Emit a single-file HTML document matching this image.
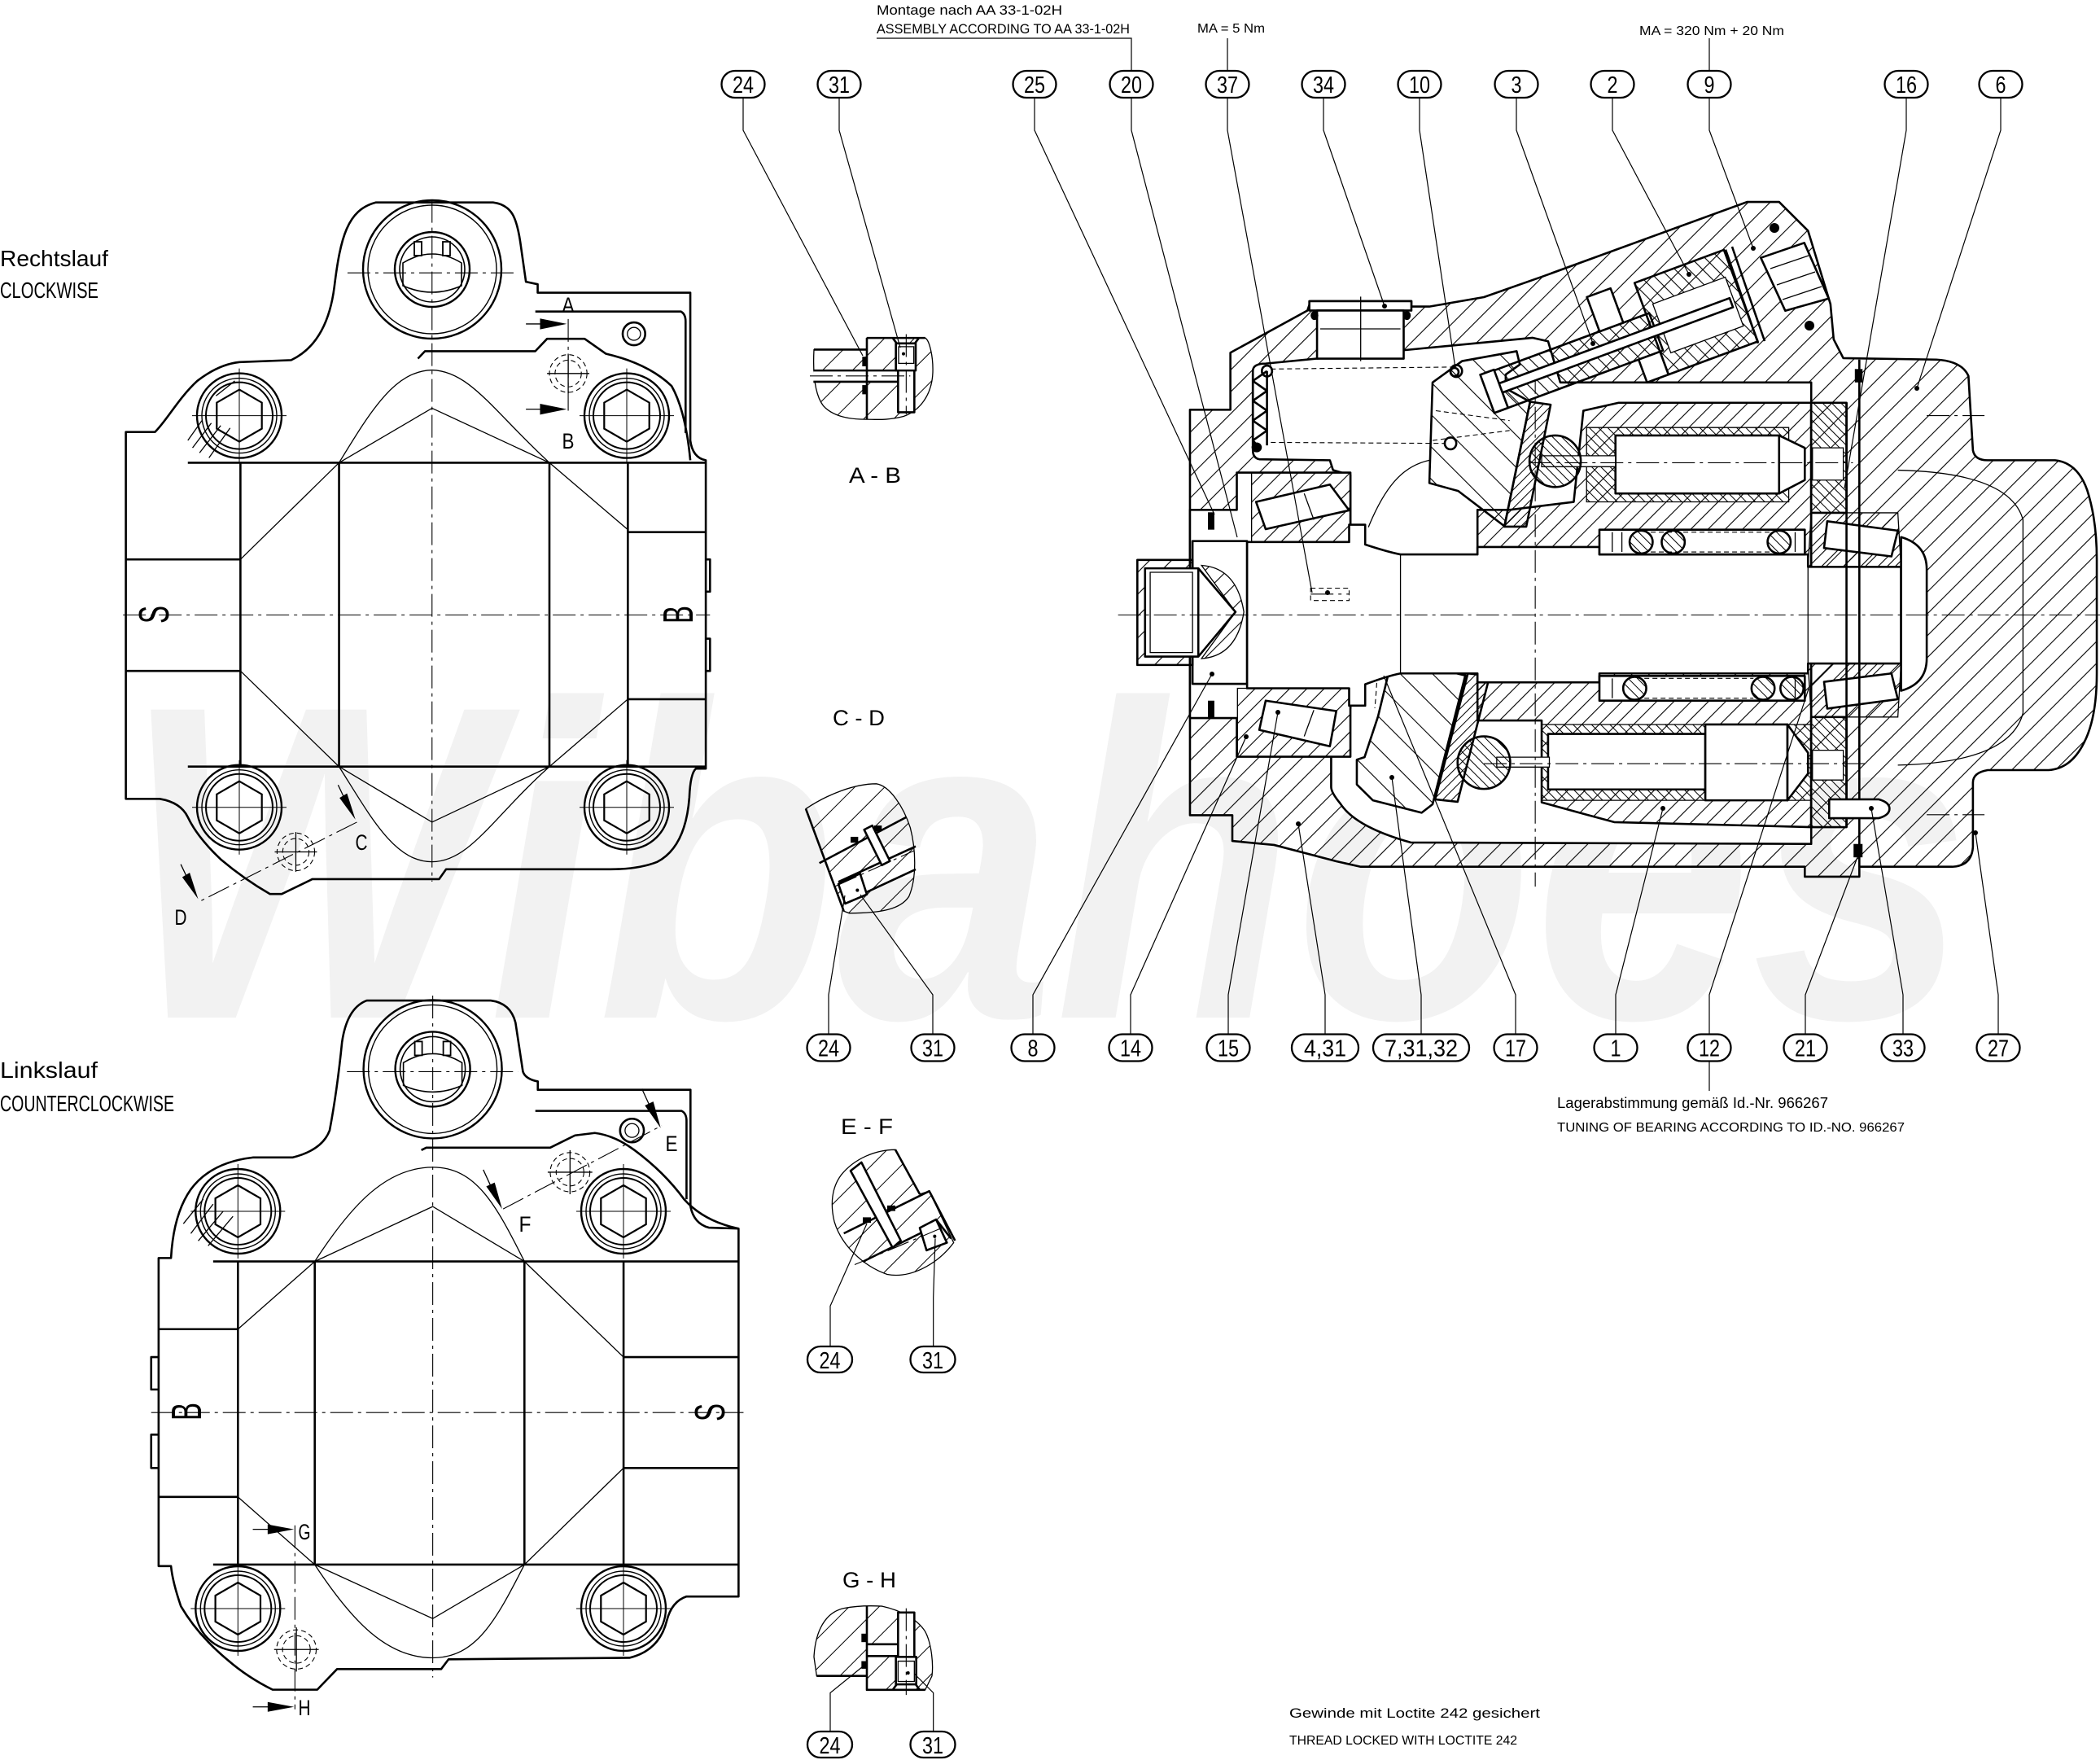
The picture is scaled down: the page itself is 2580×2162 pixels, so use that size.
<!DOCTYPE html>
<html><head><meta charset="utf-8"><style>
html,body{margin:0;padding:0;background:#fff}
svg{display:block}
.k{fill:none;stroke:#000;stroke-width:2.6;vector-effect:non-scaling-stroke;stroke-linejoin:round}
.t{fill:none;stroke:#000;stroke-width:1.3;vector-effect:non-scaling-stroke}
.c{fill:none;stroke:#000;stroke-width:1.1;stroke-dasharray:28 6 4 6;vector-effect:non-scaling-stroke}
.d{fill:none;stroke:#000;stroke-width:1.1;stroke-dasharray:6 4;vector-effect:non-scaling-stroke}
.f{fill:#000;stroke:none}
.ld{fill:none;stroke:#000;stroke-width:1.2}
.b rect{fill:#fff;stroke:#000;stroke-width:2.3}
.b text{font-family:"Liberation Sans",sans-serif;font-size:29px;text-anchor:middle;fill:#000}
.tx{font-family:"Liberation Sans","DejaVu Sans",sans-serif;fill:#000}
</style></head><body>
<svg xmlns="http://www.w3.org/2000/svg" width="2580" height="2162" viewBox="0 0 2580 2162">
<defs>
<pattern id="hA2" patternUnits="userSpaceOnUse" width="19" height="19" patternTransform="scale(1.26829,1.64211) rotate(45)"><line x1="9.5" y1="-1" x2="9.5" y2="20" stroke="#000" stroke-width="1.1"/></pattern>
<pattern id="hE2" patternUnits="userSpaceOnUse" width="15" height="15" patternTransform="scale(1.26829,1.64211) rotate(45)"><line x1="7.5" y1="-1" x2="7.5" y2="16" stroke="#000" stroke-width="1.1"/></pattern>
<pattern id="hF2" patternUnits="userSpaceOnUse" width="8" height="8" patternTransform="scale(1.26829,1.64211) rotate(45)"><line x1="4" y1="-1" x2="4" y2="9" stroke="#000" stroke-width="1"/></pattern>
<pattern id="hS2" patternUnits="userSpaceOnUse" width="28" height="28" patternTransform="scale(1.26829,1.64211) rotate(-45)"><line x1="14" y1="-1" x2="14" y2="29" stroke="#000" stroke-width="1.1"/></pattern>
<pattern id="hC2" patternUnits="userSpaceOnUse" width="8" height="8" patternTransform="scale(1.26829,1.64211) rotate(-45)"><line x1="4" y1="-1" x2="4" y2="9" stroke="#000" stroke-width="1"/></pattern>
<pattern id="hC" patternUnits="userSpaceOnUse" width="12" height="12" patternTransform="rotate(-24.7)"><line x1="6" y1="-1" x2="6" y2="13" stroke="#000" stroke-width="1.1"/></pattern>
<pattern id="hD6" patternUnits="userSpaceOnUse" width="26" height="26" patternTransform="scale(3,1.95) rotate(45)"><line x1="13" y1="-1" x2="13" y2="27" stroke="#000" stroke-width="1"/></pattern>
<pattern id="hD7" patternUnits="userSpaceOnUse" width="26" height="26" patternTransform="scale(3,1.926) rotate(45)"><line x1="13" y1="-1" x2="13" y2="27" stroke="#000" stroke-width="1"/></pattern>
<g id="bolt">
<circle r="52" fill="none" stroke="#000" stroke-width="2.4"/>
<circle r="46" fill="none" stroke="#000" stroke-width="1.4"/>
<circle r="41" fill="none" stroke="#000" stroke-width="2"/>
<polygon points="0,-32 27.7,-16 27.7,16 0,32 -27.7,16 -27.7,-16" fill="none" stroke="#000" stroke-width="2.2"/>
<line x1="-58" y1="0" x2="58" y2="0" stroke="#000" stroke-width="1"/>
<line x1="0" y1="-58" x2="0" y2="58" stroke="#000" stroke-width="1"/>
</g>
<g id="port">
<circle r="85" fill="none" stroke="#000" stroke-width="2.4"/>
<circle r="79" fill="none" stroke="#000" stroke-width="1.4"/>
<circle r="46" fill="none" stroke="#000" stroke-width="2.4"/>
<circle r="40" fill="none" stroke="#000" stroke-width="1.6"/>
<path d="M-36,-8 Q0,-30 36,-8 L36,20 Q0,36 -36,20 Z" fill="none" stroke="#000" stroke-width="1.6"/>
<rect x="-22" y="-34" width="9" height="17" fill="none" stroke="#000" stroke-width="1.8"/>
<rect x="13" y="-34" width="9" height="17" fill="none" stroke="#000" stroke-width="1.8"/>
</g>
</defs>
<rect width="2580" height="2162" fill="#fff"/>

<!-- watermark -->
<text x="150" y="1250" font-family="Liberation Sans" font-weight="bold" font-style="italic" font-size="550" fill="#f2f2f2" textLength="2270" lengthAdjust="spacingAndGlyphs">Wibahoes</text>

<!-- ===================== FRONT VIEW 1 (Rechtslauf) ===================== -->
<text class="tx" x="0" y="327" font-size="28" textLength="133" lengthAdjust="spacingAndGlyphs">Rechtslauf</text>
<text class="tx" x="0" y="366" font-size="28" textLength="121" lengthAdjust="spacingAndGlyphs">CLOCKWISE</text>
<g transform="translate(0,200) scale(0.57692,0.60897)">
<path class="k" d="M268,543 L330,543 C355,520 380,475 420,440 C450,418 480,405 510,402 L620,398 C660,380 700,340 712,250 C725,150 740,95 800,80 L1050,80 C1090,85 1100,110 1108,160 L1120,240 L1145,245 L1145,262 L1470,262 L1470,560 Q1475,595 1503,600 L1503,1222 L1482,1222 Q1470,1232 1468,1280 Q1460,1380 1400,1410 Q1360,1425 1300,1425 L950,1425 L935,1445 L665,1445 L600,1475 L575,1475 Q520,1445 470,1405 Q420,1360 400,1320 Q385,1290 340,1283 L268,1283 Z"/>
<path class="k" d="M400,605 L1503,605 M400,1218 L1503,1218 M268,800 L512,800 M268,1025 L512,1025 M512,605 V1218 M722,605 V1218 M1170,605 V1218 M1337,605 V1218 M1337,745 H1503 M1337,1082 H1503"/>
<path class="t" d="M512,800 L722,605 M512,1025 L722,1218 M1170,605 L1337,740 M1170,1218 L1337,1082 M722,605 L920,495 L1170,605 M722,605 C790,500 840,420 920,418 C1000,420 1050,500 1170,605 M722,1218 L920,1330 L1170,1218 M722,1218 C790,1320 840,1410 920,1410 C1000,1410 1050,1320 1170,1218"/>
<path class="k" d="M1140,300 L1450,300 Q1460,305 1460,320 L1460,545 M890,395 L905,380 L1140,380 L1165,355 L1245,355 L1290,385 Q1380,405 1430,450 Q1460,500 1470,600"/>
<path class="k" d="M1503,800 L1512,800 L1512,865 L1503,865 M1503,960 L1512,960 L1512,1025 L1503,1025"/>
<path class="c" d="M920,75 V1450 M262,912 H1512 M740,222 H1100"/>
<path class="c" d="M1210,315 V500 M760,1330 L425,1490"/>
<path class="t" d="M1120,325 H1160 M1120,497 H1160 M720,1255 L735,1285 M385,1415 L400,1445"/>
<polygon class="f" points="1150,314 1207,325 1150,336"/>
<polygon class="f" points="1150,486 1207,497 1150,508"/>
<polygon class="f" points="757,1325 723,1281 739,1272"/>
<polygon class="f" points="422,1485 388,1441 404,1432"/>
<ellipse class="d" cx="1210" cy="425" rx="40" ry="38"/>
<ellipse class="d" cx="1210" cy="425" rx="28" ry="27"/>
<ellipse class="d" cx="630" cy="1390" rx="40" ry="38"/>
<ellipse class="d" cx="630" cy="1390" rx="28" ry="27"/>
<path class="t" d="M1165,425 H1255 M1210,385 V465 M585,1390 H675 M630,1350 V1430"/>
<ellipse class="k" cx="1350" cy="345" rx="24" ry="23"/>
<ellipse class="t" cx="1350" cy="345" rx="14" ry="13"/>
<path class="t" d="M400,560 L430,520 M410,575 L450,525 M425,585 L470,530 M445,595 L490,535 M460,470 L500,440"/>
</g>
<use href="#bolt" x="294" y="510.6"/><use href="#bolt" x="770" y="510.6"/>
<use href="#bolt" x="294" y="991.7"/><use href="#bolt" x="770" y="991.7"/>
<use href="#port" x="531" y="331"/>
<text class="tx" font-size="27" x="698" y="384" text-anchor="middle" textLength="15" lengthAdjust="spacingAndGlyphs">A</text>
<text class="tx" font-size="27" x="698" y="551" text-anchor="middle" textLength="15" lengthAdjust="spacingAndGlyphs">B</text>
<text class="tx" font-size="27" x="444" y="1044" text-anchor="middle" textLength="15" lengthAdjust="spacingAndGlyphs">C</text>
<text class="tx" font-size="27" x="222" y="1136" text-anchor="middle" textLength="15" lengthAdjust="spacingAndGlyphs">D</text>
<text class="tx" font-size="52" text-anchor="middle" transform="translate(189,755) rotate(-90)" y="18" textLength="22" lengthAdjust="spacingAndGlyphs">S</text>
<text class="tx" font-size="52" text-anchor="middle" transform="translate(833,755) rotate(-90)" y="18" textLength="22" lengthAdjust="spacingAndGlyphs">B</text>

<!-- ===================== FRONT VIEW 2 (Linkslauf) ===================== -->
<text class="tx" x="0" y="1324" font-size="28" textLength="120" lengthAdjust="spacingAndGlyphs">Linkslauf</text>
<text class="tx" x="0" y="1365" font-size="28" textLength="214" lengthAdjust="spacingAndGlyphs">COUNTERCLOCKWISE</text>
<g transform="translate(0,1220) scale(0.60897,0.60256)">
<path class="k" d="M320,540 L345,540 Q350,450 385,400 Q425,345 510,335 L590,335 Q650,320 665,280 Q680,200 690,100 Q700,30 740,15 L990,15 Q1030,20 1040,60 L1055,160 Q1060,175 1085,180 L1085,197 L1393,197 L1393,435 Q1400,470 1430,478 L1490,480 L1490,1230 L1385,1230 Q1355,1240 1345,1280 Q1330,1340 1270,1355 L905,1358 L890,1378 L680,1378 L640,1420 L550,1420 Q500,1395 460,1360 Q400,1310 365,1250 Q348,1200 345,1168 L320,1168 Z"/>
<path class="k" d="M430,547 H1490 M430,1165 H1490 M320,685 H480 M320,1027 H480 M480,547 V1165 M635,547 V1165 M1058,547 V1165 M1258,547 V1165 M1258,742 H1490 M1258,968 H1490"/>
<path class="t" d="M480,685 L635,547 M480,1027 L635,1165 M1058,547 L1258,742 M1058,1165 L1258,968 M635,547 L873,435 L1058,547 M635,547 C710,430 780,355 873,355 C960,355 1000,430 1058,547 M635,1165 L873,1275 L1058,1165 M635,1165 C710,1280 780,1355 873,1355 C960,1355 1000,1280 1058,1165"/>
<path class="k" d="M1080,240 L1375,240 Q1385,245 1385,260 L1385,420 M850,320 L860,315 L1110,315 L1160,290 L1200,285 Q1240,290 1280,320 Q1340,365 1380,420 Q1420,465 1490,480"/>
<path class="k" d="M320,742 L305,742 L305,808 L320,808 M320,900 L305,900 L305,968 L320,968"/>
<path class="c" d="M873,5 V1395 M305,855 H1500 M700,160 H1045"/>
<path class="c" d="M1015,440 L1335,270 M595,1085 V1460"/>
<path class="t" d="M1295,195 L1310,228 M975,360 L990,393 M510,1093 H550 M510,1455 H550"/>
<polygon class="f" points="1333,275 1301,229 1318,221"/>
<polygon class="f" points="1013,440 981,394 998,386"/>
<polygon class="f" points="540,1083 593,1093 540,1103"/>
<polygon class="f" points="540,1445 593,1455 540,1465"/>
<ellipse class="d" cx="1150" cy="365" rx="40" ry="40"/>
<ellipse class="d" cx="1150" cy="365" rx="28" ry="28"/>
<ellipse class="d" cx="598" cy="1338" rx="40" ry="40"/>
<ellipse class="d" cx="598" cy="1338" rx="28" ry="28"/>
<path class="t" d="M1105,365 H1195 M1150,320 V410 M553,1338 H643 M598,1293 V1383"/>
<ellipse class="k" cx="1275" cy="280" rx="24" ry="24"/>
<ellipse class="t" cx="1275" cy="280" rx="14" ry="14"/>
<path class="t" d="M370,470 L410,420 M385,490 L430,430 M400,505 L450,445 M420,515 L470,455"/>
</g>
<use href="#bolt" x="292.3" y="1488"/><use href="#bolt" x="766" y="1488"/>
<use href="#bolt" x="292.3" y="1976"/><use href="#bolt" x="766" y="1976"/>
<use href="#port" x="531.6" y="1313.4"/>
<text class="tx" font-size="27" x="825" y="1414" text-anchor="middle" textLength="15" lengthAdjust="spacingAndGlyphs">E</text>
<text class="tx" font-size="27" x="645" y="1513" text-anchor="middle" textLength="15" lengthAdjust="spacingAndGlyphs">F</text>
<text class="tx" font-size="27" x="374" y="1891" text-anchor="middle" textLength="15" lengthAdjust="spacingAndGlyphs">G</text>
<text class="tx" font-size="27" x="374" y="2107" text-anchor="middle" textLength="15" lengthAdjust="spacingAndGlyphs">H</text>
<text class="tx" font-size="52" text-anchor="middle" transform="translate(229,1734) rotate(-90)" y="18" textLength="22" lengthAdjust="spacingAndGlyphs">B</text>
<text class="tx" font-size="52" text-anchor="middle" transform="translate(872,1735) rotate(-90)" y="18" textLength="22" lengthAdjust="spacingAndGlyphs">S</text>

<!-- ===================== CROSS SECTION ===================== -->
<g transform="translate(1350,200) scale(0.78846,0.60897)">
<!-- housing -->
<path class="k" style="fill:url(#hA2)" d="M142,498 L205,498 L205,383 L325,298 L330,279 L487,279 L487,290 L515,290 L600,271 L690,230 L1010,79 L1060,79 L1105,137 L1140,285 L1145,356 L1160,394 L1305,397 Q1345,400 1355,430 L1362,580 Q1365,600 1385,600 L1490,600 Q1525,605 1540,660 Q1555,720 1555,800 L1555,1030 Q1555,1120 1535,1170 Q1515,1222 1480,1225 L1385,1225 Q1362,1230 1362,1250 L1362,1380 Q1360,1418 1330,1420 L1185,1420 L1185,1440 L1100,1440 L1100,1420 L408,1420 L370,1409 L273,1376 L208,1368 L208,1316 L142,1316 Z"/>
<!-- main cavity -->
<path class="k" style="fill:#fff" d="M240,420 Q240,405 260,405 L507,374 L676,353 L700,360 L719,443 L1110,443 L1110,1374 L486,1371 Q400,1340 376,1292 Q362,1270 362,1259 L362,1100 L392,1100 L392,630 L365,620 L360,600 L250,598 Q240,595 240,580 Z"/>
<!-- bearing bore -->
<path class="k" style="fill:#fff" d="M142,700 L215,700 L215,625 L392,625 L392,1198 L215,1198 L215,1120 L142,1120 Z"/>
<path class="t" style="fill:url(#hE2)" d="M238,625 L392,625 L392,765 L238,765 Z"/>
<path class="k" style="fill:#fff" d="M245,684 L360,649 L390,701 L260,739 Z"/>
<path class="t" style="fill:url(#hE2)" d="M216,1060 L392,1060 L392,1198 L216,1198 Z"/>
<path class="k" style="fill:#fff" d="M260,1085 L370,1106 L360,1177 L250,1144 Z"/>
<path class="t" d="M320,667 L335,720 M320,1157 L335,1104"/>
<!-- cylinder block -->
<path class="k" style="fill:url(#hE2)" d="M755,500 L810,484 L1110,484 L1110,1340 L803,1330 L760,1315 L690,1290 L690,1125 L590,1125 L590,700 L640,700 L740,684 L750,560 Z"/>
<rect class="t" x="760" y="534" width="315" height="150" style="fill:url(#hC2)"/>
<rect class="k" x="805" y="550" width="255" height="117" style="fill:#fff"/>
<path class="k" style="fill:#fff" d="M1060,550 L1100,575 L1100,640 L1060,667 Z"/>
<rect class="t" x="690" y="591" width="115" height="22" style="fill:#fff"/>
<ellipse class="k" cx="711" cy="602" rx="40" ry="52" style="fill:url(#hC2)"/>
<rect class="t" x="690" y="1133" width="420" height="153" style="fill:url(#hC2)"/>
<rect class="k" x="700" y="1152" width="245" height="112" style="fill:#fff"/>
<rect class="k" x="945" y="1133" width="128" height="153" style="fill:#fff"/>
<path class="k" style="fill:#fff" d="M1073,1133 L1105,1190 L1105,1232 L1073,1286 Z"/>
<rect class="t" x="620" y="1199" width="82" height="20" style="fill:#fff"/>
<ellipse class="k" cx="600" cy="1210" rx="41" ry="53" style="fill:url(#hC2)"/>
<!-- swash plate -->
<path class="k" style="fill:url(#hS2)" d="M520,443 L566,400 L651,380 L656,407 L634,427 L634,455 L672,482 L632,733 L560,662 L515,646 Z"/>
<path class="k" style="fill:url(#hF2)" d="M672,482 L704,488 L666,734 L632,734 Z"/>
<path class="k" style="fill:url(#hS2)" d="M450,1037 L465,1028 L545,1026 L571,1034 L520,1294 L503,1311 L427,1286 L402,1254 L402,1204 L414,1199 L435,1117 Z"/>
<path class="k" style="fill:url(#hF2)" d="M575,1030 L609,1035 L559,1289 L524,1284 Z"/>
<path class="t" d="M420,735 C450,640 480,610 515,600"/>
<path class="d" d="M410,740 Q445,900 430,1100 M525,500 L640,520 M520,560 L640,540"/>
<!-- shaft end coupling -->
<rect class="k" x="146" y="763" width="85" height="288" style="fill:#fff"/>
<rect class="k" x="60" y="801" width="86" height="212" style="fill:url(#hA2)"/>
<rect class="k" x="72" y="818" width="83" height="178" style="fill:#fff"/>
<rect class="t" x="80" y="826" width="66" height="162"/>
<path class="t" style="fill:url(#hA2)" d="M160,812 L213,906 L160,1000 Q215,995 226,906 Q215,817 160,812 Z"/>
<path class="k" d="M155,818 L213,906 L155,996"/>
<!-- shaft -->
<path class="k" style="fill:#fff" d="M231,765 L390,765 L390,730 L415,730 L415,770 Q450,785 470,790 L590,790 L590,775 L780,775 L780,790 L1105,790 L1105,815 L1250,815 L1250,1010 L1105,1010 L1105,1030 L780,1030 L780,1048 L590,1048 L590,1030 L470,1030 Q450,1035 415,1052 L415,1095 L390,1095 L390,1060 L231,1060 Z"/>
<path class="t" d="M470,790 V1030 M1105,815 V1010"/>
<!-- springs -->
<rect class="k" x="780" y="740" width="320" height="50" style="fill:#fff"/>
<rect class="k" x="780" y="1035" width="320" height="50" style="fill:#fff"/>
<path class="t" d="M800,745 V785 M815,745 V785 M1085,745 V785 M800,1040 V1080 M1085,1040 V1080"/>
<ellipse class="k" cx="845" cy="765" rx="18" ry="23" style="fill:url(#hC2)"/>
<ellipse class="k" cx="895" cy="765" rx="18" ry="23" style="fill:url(#hC2)"/>
<ellipse class="k" cx="1060" cy="765" rx="18" ry="23" style="fill:url(#hC2)"/>
<ellipse class="k" cx="835" cy="1060" rx="18" ry="23" style="fill:url(#hC2)"/>
<ellipse class="k" cx="1035" cy="1060" rx="18" ry="23" style="fill:url(#hC2)"/>
<ellipse class="k" cx="1080" cy="1060" rx="18" ry="23" style="fill:url(#hC2)"/>
<path class="d" d="M860,745 L1045,745 M860,785 L1045,785 M850,1040 L1020,1040 M850,1080 L1020,1080"/>
<!-- valve plate -->
<rect class="k" x="1110" y="484" width="55" height="222" style="fill:url(#hC2)"/>
<rect class="k" x="1110" y="1118" width="55" height="222" style="fill:url(#hC2)"/>
<rect class="t" x="1112" y="575" width="48" height="65" style="fill:#fff"/>
<rect class="t" x="1112" y="1185" width="48" height="60" style="fill:#fff"/>
<!-- right bearings -->
<path class="k" style="fill:#fff" d="M1250,755 Q1290,770 1290,820 L1290,1000 Q1290,1050 1250,1065 Z"/>
<path class="t" style="fill:url(#hE2)" d="M1110,706 L1245,706 L1250,815 L1105,815 Z"/>
<path class="k" style="fill:#fff" d="M1135,723 L1245,742 L1235,794 L1130,777 Z"/>
<path class="t" style="fill:url(#hE2)" d="M1105,1010 L1250,1010 L1245,1118 L1110,1118 Z"/>
<path class="k" style="fill:#fff" d="M1135,1101 L1245,1082 L1235,1030 L1130,1047 Z"/>
<path class="t" d="M1245,620 Q1420,625 1440,720 L1440,1110 Q1420,1210 1245,1215"/>
<path class="k" d="M1185,397 L1185,1420 M1165,484 L1165,1340"/>
<rect class="f" x="1178" y="416" width="12" height="27"/>
<rect class="f" x="1176" y="1374" width="14" height="27"/>
<!-- pin 33 -->
<path class="k" style="fill:#fff" d="M1138,1284 L1215,1284 Q1232,1290 1232,1303 Q1232,1316 1215,1322 L1138,1322 Z"/>
<!-- return spring -->
<path class="k" d="M262,420 L240,440 L262,460 L240,480 L262,500 L240,520 L262,540 L240,560 L250,575 M240,425 L240,575 M262,420 L262,570"/>
<ellipse class="k" cx="262" cy="420" rx="8" ry="11"/>
<ellipse class="f" cx="246" cy="574" rx="8" ry="10"/>
<ellipse class="k" cx="557" cy="420" rx="9" ry="12"/>
<ellipse class="k" cx="548" cy="566" rx="9" ry="12"/>
<path class="d" d="M268,416 L550,412 M268,564 L540,566"/>
<!-- plug 34 -->
<rect class="k" x="328" y="279" width="159" height="19" style="fill:#fff"/>
<rect class="k" x="340" y="298" width="135" height="97" style="fill:#fff"/>
<path class="t" d="M345,335 H470 M408,270 V400"/>
<ellipse class="f" cx="336" cy="308" rx="6" ry="9"/>
<ellipse class="f" cx="480" cy="308" rx="6" ry="9"/>
<!-- seals left -->
<rect class="f" x="170" y="705" width="10" height="35"/>
<rect class="f" x="170" y="1085" width="10" height="35"/>
<!-- centerlines -->
<path class="c" d="M30,912 L1565,912 M670,605 L1175,605 M600,1212 L1200,1212 M680,420 L680,1460 M1290,510 L1380,510 M1290,1315 L1380,1315 M330,870 L390,870"/>
<rect class="d" x="330" y="858" width="60" height="25"/>
</g>
<!-- control piston assembly -->
<g transform="translate(1840,478) rotate(-20.3)">
<rect class="k" x="-8" y="-23" width="215" height="49" style="fill:url(#hC)"/>
<rect class="k" x="203" y="-64" width="117" height="120" style="fill:url(#hC)"/>
<rect class="t" x="215" y="-32" width="95" height="64" style="fill:#fff"/>
<rect class="k" x="142" y="-68" width="31" height="45" style="fill:#fff"/>
<rect class="k" x="175" y="26" width="28" height="30" style="fill:#fff"/>
<rect class="k" x="-5" y="-6" width="311" height="12" style="fill:#fff"/>
<rect class="k" x="-14" y="-24" width="18" height="50" style="fill:#fff"/>
</g>
<path class="k" d="M2120,306.7 L2160,421.7 M2128,303 L2168,419"/>
<path class="k" style="fill:#fff" d="M2163.3,316.7 L2216.7,298.3 L2246.7,366.7 L2193.3,381.7 Z"/>
<path class="t" d="M2175,330 L2222,314 M2183,350 L2230,334 M2190,368 L2238,352"/>
<ellipse class="f" cx="2180" cy="280" rx="6" ry="6"/>
<ellipse class="f" cx="2223" cy="400" rx="6" ry="6"/>
<circle class="k" cx="1787" cy="457" r="5"/>

<!-- ===================== DETAIL VIEWS ===================== -->
<g transform="translate(950,350) scale(0.33333,0.51282)">
<path class="t" style="fill:url(#hD6)" d="M150,155 L345,155 L345,127 L560,127 C575,132 590,170 588,210 C585,260 545,300 480,315 C420,325 380,322 340,322 C280,322 220,315 185,290 C155,265 145,220 150,155 Z"/>
<path class="k" style="fill:#fff" d="M148,205 L465,205 L480,218 L465,232 L148,232"/>
<rect class="k" x="460" y="190" width="60" height="115" style="fill:#fff"/>
<rect class="k" x="452" y="140" width="73" height="65" style="fill:#fff"/>
<rect class="t" x="462" y="148" width="56" height="40"/>
<path class="k" d="M345,127 V322 M150,155 H345 M345,127 H560 M440,127 L455,140 M537,127 L522,140"/>
<rect class="f" x="328" y="172" width="20" height="23"/>
<rect class="f" x="328" y="240" width="20" height="22"/>
<ellipse class="f" cx="480" cy="165" rx="6" ry="4"/>
<path class="c" d="M135,218 H505 M490,118 V310"/>
<path class="t" style="fill:url(#hD6)" d="M120,1255 C200,1220 300,1195 380,1195 C430,1200 480,1250 505,1300 C525,1350 530,1420 500,1465 C470,1495 400,1505 280,1505 L260,1500 Z"/>
<path class="k" d="M120,1255 L260,1500 M170,1385 L490,1275 M240,1430 L525,1345 M260,1480 L525,1400"/>
<path class="k" style="fill:#fff" d="M335,1305 L365,1295 L430,1380 L400,1390 Z"/>
<path class="k" style="fill:#fff" d="M240,1435 L320,1410 L345,1460 L265,1482 Z"/>
<rect class="f" x="285" y="1322" width="28" height="14"/>
<rect class="f" x="372" y="1295" width="28" height="14"/>
<ellipse class="f" cx="310" cy="1450" rx="6" ry="4"/>
<path class="c" d="M230,1440 L520,1355"/>
</g>
<g transform="translate(950,1350) scale(0.33333,0.51921)">
<path class="t" style="fill:url(#hD7)" d="M450,120 C380,120 300,140 250,180 C215,210 210,250 225,290 C250,345 330,395 420,415 C500,425 600,395 665,340 L575,218 L540,225 Z"/>
<path class="k" d="M450,120 L540,225 M260,318 L575,218 L670,335 M330,385 L560,312"/>
<path class="k" style="fill:#fff" d="M285,170 L325,150 L470,335 L440,352 Z"/>
<path class="k" style="fill:#fff" d="M540,305 L600,285 L640,340 L565,358 Z"/>
<path class="k" d="M600,285 L655,330"/>
<rect class="f" x="330" y="280" width="30" height="13"/>
<rect class="f" x="420" y="252" width="30" height="13"/>
<ellipse class="f" cx="595" cy="325" rx="6" ry="4"/>
<path class="c" d="M300,392 L640,300"/>
<path class="t" style="fill:url(#hD7)" d="M150,1320 C155,1260 190,1215 260,1205 C300,1200 345,1198 400,1200 C470,1210 530,1230 560,1260 C585,1290 590,1340 585,1365 L560,1398 L345,1398 L345,1365 L160,1365 Z"/>
<path class="k" style="fill:#fff" d="M345,1290 L465,1290 L480,1304 L465,1318 L345,1318"/>
<rect class="k" x="460" y="1215" width="60" height="105" style="fill:#fff"/>
<rect class="k" x="452" y="1320" width="75" height="65" style="fill:#fff"/>
<rect class="t" x="460" y="1330" width="60" height="48"/>
<path class="k" d="M160,1365 H345 M345,1200 V1398 H560 M440,1398 L455,1385 M540,1398 L525,1385"/>
<rect class="f" x="325" y="1265" width="23" height="20"/>
<rect class="f" x="325" y="1330" width="23" height="18"/>
<ellipse class="f" cx="497" cy="1358" rx="6" ry="4"/>
<path class="c" d="M490,1205 V1410"/>
<path class="ld" style="vector-effect:non-scaling-stroke" d="M345,295 L210,490 L210,590 M597,330 L590,470 L590,590 M335,1340 L210,1405 L210,1500 M520,1360 L590,1405 L590,1500"/>
</g>
<text class="tx" x="1043" y="593" font-size="27" textLength="64" lengthAdjust="spacingAndGlyphs">A - B</text>
<text class="tx" x="1023" y="891" font-size="27" textLength="64" lengthAdjust="spacingAndGlyphs">C - D</text>
<text class="tx" x="1033" y="1393" font-size="27" textLength="64" lengthAdjust="spacingAndGlyphs">E - F</text>
<text class="tx" x="1035" y="1950" font-size="27" textLength="66" lengthAdjust="spacingAndGlyphs">G - H</text>

<!-- ===================== NOTES ===================== -->
<text class="tx" x="1077" y="18" font-size="17" textLength="228" lengthAdjust="spacingAndGlyphs">Montage nach AA 33-1-02H</text>
<text class="tx" x="1077" y="41" font-size="17" textLength="311" lengthAdjust="spacingAndGlyphs">ASSEMBLY ACCORDING TO AA 33-1-02H</text>
<path class="ld" d="M1077,47 H1390 V87"/>
<text class="tx" x="1471" y="40" font-size="16" textLength="83" lengthAdjust="spacingAndGlyphs">MA = 5 Nm</text>
<path class="ld" d="M1508,47 V87"/>
<text class="tx" x="2014" y="43" font-size="16" textLength="178" lengthAdjust="spacingAndGlyphs">MA = 320 Nm + 20 Nm</text>
<path class="ld" d="M2100,47 V87"/>
<text class="tx" x="1913" y="1361" font-size="18" textLength="333" lengthAdjust="spacingAndGlyphs">Lagerabstimmung gemäß Id.-Nr. 966267</text>
<text class="tx" x="1913" y="1390" font-size="16" textLength="427" lengthAdjust="spacingAndGlyphs">TUNING OF BEARING ACCORDING TO ID.-NO. 966267</text>
<path class="ld" d="M2100,1304 V1340"/>
<text class="tx" x="1584" y="2110" font-size="17" textLength="308" lengthAdjust="spacingAndGlyphs">Gewinde mit Loctite 242 gesichert</text>
<text class="tx" x="1584" y="2143" font-size="16" textLength="280" lengthAdjust="spacingAndGlyphs">THREAD LOCKED WITH LOCTITE 242</text>

<!-- ===================== LEADERS ===================== -->
<path class="ld" d="M913,120 L913,160 L1060,437 M1031,120 L1031,160 L1106,427 M1271,120 L1271,160 L1492,632 M1390,120 L1390,160 L1520,660 M1508,120 L1508,160 L1612,728 M1626,120 L1626,160 L1701,376 M1744,120 L1744,160 L1788,452 M1863,120 L1863,160 L1957,422 M1981,120 L1981,160 L2075,337 M2100,120 L2100,160 L2154,305 M2342,120 L2342,160 L2266,600 M2458,120 L2458,160 L2355,477"/>
<path class="ld" d="M1018,1270 L1018,1222 L1038,1100 M1146,1270 L1146,1222 L1057,1099 M1269,1270 L1269,1222 L1489,828 M1389,1270 L1389,1222 L1531,905 M1509,1270 L1509,1222 L1570,875 M1628,1270 L1628,1222 L1595,1012 M1746,1270 L1746,1222 L1710,955 M1862,1270 L1862,1222 L1700,830 M1985,1270 L1985,1222 L2043,993 M2100,1270 L2100,1222 L2222,846 M2218,1270 L2218,1222 L2282,1053 M2338,1270 L2338,1222 L2299,993 M2455,1270 L2455,1222 L2427,1023"/>
<g class="f">
<circle cx="1701" cy="376" r="3"/><circle cx="1957" cy="422" r="3"/><circle cx="2075" cy="337" r="3"/><circle cx="2154" cy="305" r="3"/><circle cx="2355" cy="477" r="3"/>
<circle cx="1489" cy="828" r="3"/><circle cx="1531" cy="905" r="3"/><circle cx="1570" cy="875" r="3"/><circle cx="1595" cy="1012" r="3"/><circle cx="1710" cy="955" r="3"/><circle cx="2043" cy="993" r="3"/><circle cx="2299" cy="993" r="3"/><circle cx="2427" cy="1023" r="3"/><circle cx="1631" cy="728" r="3"/>
</g>

<!-- ===================== BALLOONS ===================== -->
<g class="b">
<rect x="886.5" y="87" width="53" height="33" rx="16.5"/><text x="913" y="114" textLength="26" lengthAdjust="spacingAndGlyphs">24</text>
<rect x="1004.5" y="87" width="53" height="33" rx="16.5"/><text x="1031" y="114" textLength="26" lengthAdjust="spacingAndGlyphs">31</text>
<rect x="1244.5" y="87" width="53" height="33" rx="16.5"/><text x="1271" y="114" textLength="26" lengthAdjust="spacingAndGlyphs">25</text>
<rect x="1363.5" y="87" width="53" height="33" rx="16.5"/><text x="1390" y="114" textLength="26" lengthAdjust="spacingAndGlyphs">20</text>
<rect x="1481.5" y="87" width="53" height="33" rx="16.5"/><text x="1508" y="114" textLength="26" lengthAdjust="spacingAndGlyphs">37</text>
<rect x="1599.5" y="87" width="53" height="33" rx="16.5"/><text x="1626" y="114" textLength="26" lengthAdjust="spacingAndGlyphs">34</text>
<rect x="1717.5" y="87" width="53" height="33" rx="16.5"/><text x="1744" y="114" textLength="26" lengthAdjust="spacingAndGlyphs">10</text>
<rect x="1836.5" y="87" width="53" height="33" rx="16.5"/><text x="1863" y="114" textLength="13" lengthAdjust="spacingAndGlyphs">3</text>
<rect x="1954.5" y="87" width="53" height="33" rx="16.5"/><text x="1981" y="114" textLength="13" lengthAdjust="spacingAndGlyphs">2</text>
<rect x="2073.5" y="87" width="53" height="33" rx="16.5"/><text x="2100" y="114" textLength="13" lengthAdjust="spacingAndGlyphs">9</text>
<rect x="2315.5" y="87" width="53" height="33" rx="16.5"/><text x="2342" y="114" textLength="26" lengthAdjust="spacingAndGlyphs">16</text>
<rect x="2431.5" y="87" width="53" height="33" rx="16.5"/><text x="2458" y="114" textLength="13" lengthAdjust="spacingAndGlyphs">6</text>

<rect x="991.5" y="1270.5" width="53" height="33" rx="16.5"/><text x="1018" y="1297.5" textLength="26" lengthAdjust="spacingAndGlyphs">24</text>
<rect x="1119.5" y="1270.5" width="53" height="33" rx="16.5"/><text x="1146" y="1297.5" textLength="26" lengthAdjust="spacingAndGlyphs">31</text>
<rect x="1242.5" y="1270.5" width="53" height="33" rx="16.5"/><text x="1269" y="1297.5" textLength="13" lengthAdjust="spacingAndGlyphs">8</text>
<rect x="1362.5" y="1270.5" width="53" height="33" rx="16.5"/><text x="1389" y="1297.5" textLength="26" lengthAdjust="spacingAndGlyphs">14</text>
<rect x="1482.5" y="1270.5" width="53" height="33" rx="16.5"/><text x="1509" y="1297.5" textLength="26" lengthAdjust="spacingAndGlyphs">15</text>
<rect x="1587" y="1270.5" width="82" height="33" rx="16.5"/><text x="1628" y="1297.5" textLength="52" lengthAdjust="spacingAndGlyphs">4,31</text>
<rect x="1687" y="1270.5" width="118" height="33" rx="16.5"/><text x="1746" y="1297.5" textLength="90" lengthAdjust="spacingAndGlyphs">7,31,32</text>
<rect x="1835.5" y="1270.5" width="53" height="33" rx="16.5"/><text x="1862" y="1297.5" textLength="26" lengthAdjust="spacingAndGlyphs">17</text>
<rect x="1958.5" y="1270.5" width="53" height="33" rx="16.5"/><text x="1985" y="1297.5" textLength="13" lengthAdjust="spacingAndGlyphs">1</text>
<rect x="2073.5" y="1270.5" width="53" height="33" rx="16.5"/><text x="2100" y="1297.5" textLength="26" lengthAdjust="spacingAndGlyphs">12</text>
<rect x="2191.5" y="1270.5" width="53" height="33" rx="16.5"/><text x="2218" y="1297.5" textLength="26" lengthAdjust="spacingAndGlyphs">21</text>
<rect x="2311.5" y="1270.5" width="53" height="33" rx="16.5"/><text x="2338" y="1297.5" textLength="26" lengthAdjust="spacingAndGlyphs">33</text>
<rect x="2428.5" y="1270.5" width="53" height="33" rx="16.5"/><text x="2455" y="1297.5" textLength="26" lengthAdjust="spacingAndGlyphs">27</text>

<rect x="992" y="1654" width="55" height="32" rx="16"/><text x="1019.5" y="1681" textLength="26" lengthAdjust="spacingAndGlyphs">24</text>
<rect x="1118.5" y="1654" width="55" height="32" rx="16"/><text x="1146" y="1681" textLength="26" lengthAdjust="spacingAndGlyphs">31</text>
<rect x="992" y="2127" width="55" height="32" rx="16"/><text x="1019.5" y="2154" textLength="26" lengthAdjust="spacingAndGlyphs">24</text>
<rect x="1118.5" y="2127" width="55" height="32" rx="16"/><text x="1146" y="2154" textLength="26" lengthAdjust="spacingAndGlyphs">31</text>
</g>
</svg>
</body></html>
